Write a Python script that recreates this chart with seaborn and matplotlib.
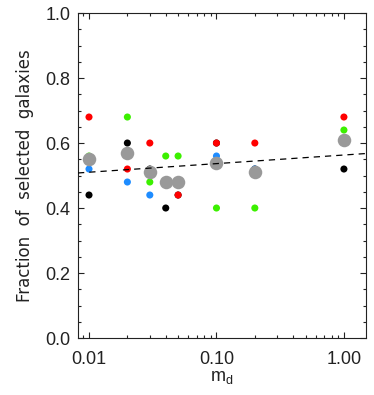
import numpy as np
import pandas as pd
import matplotlib
matplotlib.use("Agg")
import matplotlib.pyplot as plt
import matplotlib.ticker as mticker
import seaborn as sns

# m_d values and the fraction of selected galaxies for each of the four runs
m_d = [0.01, 0.02, 0.03, 0.04, 0.05, 0.10, 0.20, 1.00]
frac_black = [0.44, 0.60, 0.52, 0.40, 0.44, 0.60, 0.52, 0.52]
frac_blue = [0.52, 0.48, 0.44, 0.48, 0.48, 0.56, 0.52, 0.60]
frac_green = [0.56, 0.68, 0.48, 0.56, 0.56, 0.40, 0.40, 0.64]
frac_red = [0.68, 0.52, 0.60, 0.48, 0.44, 0.60, 0.60, 0.68]

runs = ["black", "blue", "green", "red"]
colors = {"black": "#000000", "blue": "#1e8cff", "green": "#3cf000", "red": "#ff0000"}

df = pd.DataFrame({
    "m_d": m_d * 4,
    "frac": frac_black + frac_blue + frac_green + frac_red,
    "run": sum([[r] * len(m_d) for r in runs], []),
})
means = df.groupby("m_d", as_index=False)["frac"].mean()

sns.set_style("ticks")
plt.rcParams["font.family"] = ["Liberation Sans", "DejaVu Sans"]

fig = plt.figure(figsize=(3.74, 3.95), dpi=100)
ax = fig.add_axes([0.2086, 0.1443, 0.77, 0.8227])

sns.scatterplot(data=df, x="m_d", y="frac", hue="run", palette=colors,
                s=26, linewidth=0, legend=False, ax=ax, zorder=3)
sns.scatterplot(data=means, x="m_d", y="frac", color="#999999",
                s=95, linewidth=0, legend=False, ax=ax, zorder=4)

ax.set_xscale("log")
ax.set_xlim(0.0082, 1.49)
ax.set_ylim(0.0, 1.0)

# linear fit of the fraction against log m_d
slope, icept = np.polyfit(np.log10(df["m_d"]), df["frac"], 1)
xx = np.logspace(np.log10(0.0082), np.log10(1.49), 50)
ax.plot(xx, icept + slope * np.log10(xx), ls=(0, (5, 4)), color="black",
        lw=0.9, zorder=5)

ax.xaxis.set_major_locator(mticker.FixedLocator([0.01, 0.1, 1.0]))
ax.xaxis.set_major_formatter(mticker.FormatStrFormatter("%.2f"))
ax.xaxis.set_minor_locator(mticker.LogLocator(base=10, subs=np.arange(2, 10)))
ax.xaxis.set_minor_formatter(mticker.NullFormatter())
ax.yaxis.set_major_locator(mticker.MultipleLocator(0.2))
ax.yaxis.set_major_formatter(mticker.FormatStrFormatter("%.1f"))
ax.yaxis.set_minor_locator(mticker.MultipleLocator(0.05))

ax.tick_params(which="both", direction="in", top=True, right=True,
               width=0.8, color="#222222", labelsize=13, labelcolor="#222222")
ax.tick_params(which="major", length=4.5)
ax.tick_params(which="minor", length=2.2)
ax.tick_params(axis="x", which="major", pad=9)
ax.tick_params(axis="y", which="major", pad=5.5)
for sp in ax.spines.values():
    sp.set_linewidth(0.8)
    sp.set_color("#222222")

ax.set_xlabel(r"$\mathregular{m_d}$", fontsize=13, color="#222222", labelpad=1)
ax.set_ylabel("Fraction  of  selected  galaxies", fontsize=12,
              family="DejaVu Sans", color="#222222", labelpad=8)

fig.savefig("out.png", dpi=100)
